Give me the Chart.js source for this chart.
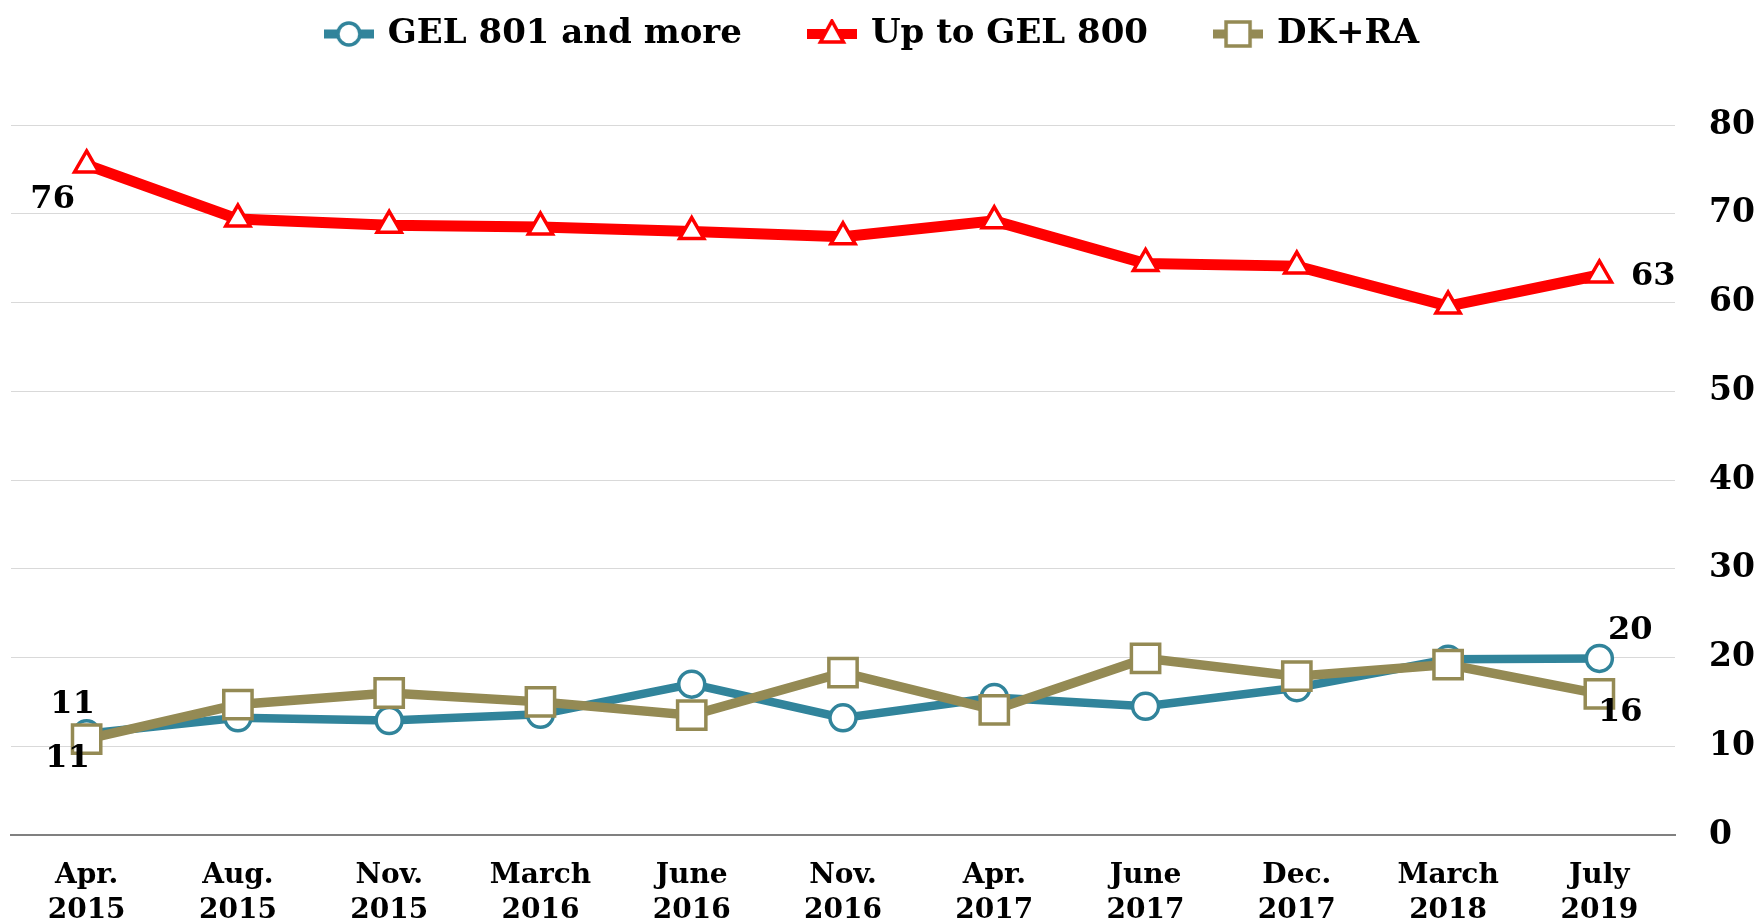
<!DOCTYPE html>
<html>
<head>
<meta charset="utf-8">
<script src="https://cdn.jsdelivr.net/npm/chart.js@4"></script>
<style>
  body { margin: 0; background: #fff; }
  #wrap { width: 1762px; height: 924px; }
</style>
</head>
<body>
<div id="wrap"><canvas id="chart"></canvas></div>
<script>
// survey waves
const categories = [
  ['Apr.', '2015'], ['Aug.', '2015'], ['Nov.', '2015'], ['March', '2016'],
  ['June', '2016'], ['Nov.', '2016'], ['Apr.', '2017'], ['June', '2017'],
  ['Dec.', '2017'], ['March', '2018'], ['July', '2019']
];
const gel801 = [11.4, 13.2, 12.9, 13.6, 17.0, 13.2, 15.5, 14.5, 16.6, 19.8, 19.9];
const upTo800 = [75.5, 69.4, 68.7, 68.5, 68.0, 67.4, 69.2, 64.4, 64.1, 59.6, 63.1];
const dkra = [10.8, 14.7, 16.0, 15.0, 13.5, 18.3, 14.1, 19.9, 17.9, 19.2, 15.9];
const yTicks = [0, 10, 20, 30, 40, 50, 60, 70, 80];

const TEAL = '#31849B', RED = '#FF0000', OLIVE = '#948A54';
const FONT = 'DejaVu Serif';

// small line+marker swatch for the legend
function swatch(color, style, lw) {
  const c = document.createElement('canvas');
  c.width = 50; c.height = 30;
  const g = c.getContext('2d');
  g.strokeStyle = color; g.lineWidth = lw;
  g.beginPath(); g.moveTo(0, 15); g.lineTo(50, 15); g.stroke();
  g.fillStyle = '#fff'; g.lineWidth = 3.5;
  g.beginPath();
  if (style === 'circle') g.arc(25, 15, 11, 0, Math.PI * 2);
  else if (style === 'rect') g.rect(13, 3, 24, 24);
  else { g.moveTo(25, 2); g.lineTo(36.5, 23); g.lineTo(13.5, 23); g.closePath(); }
  g.fill(); g.stroke();
  return c;
}

// value labels at chosen points
const pointLabels = {
  id: 'pointLabels',
  afterDatasetsDraw(chart, args, opts) {
    const ctx = chart.ctx;
    ctx.save();
    ctx.font = 'bold 32px "' + FONT + '"';
    ctx.fillStyle = '#000';
    ctx.textAlign = 'center';
    ctx.textBaseline = 'middle';
    opts.items.forEach(it => {
      const pt = chart.getDatasetMeta(it.ds).data[it.i];
      const v = chart.data.datasets[it.ds].data[it.i];
      ctx.fillText(Math.round(v), pt.x + it.dx, pt.y + it.dy);
    });
    ctx.restore();
  }
};

// legend sits a little left of the canvas centre in the original
const legendShift = {
  id: 'legendShift',
  afterLayout(chart) { chart.legend.right -= 27; }
};

new Chart(document.getElementById('chart'), {
  type: 'line',
  data: {
    labels: categories,
    datasets: [
      {
        label: 'GEL 801 and more', data: gel801, borderColor: TEAL, borderWidth: 8.5,
        pointStyle: 'circle', pointRadius: 13, pointBorderWidth: 3.5,
        pointBackgroundColor: '#fff', pointBorderColor: TEAL, order: 2
      },
      {
        label: 'Up to GEL 800', data: upTo800, borderColor: RED, borderWidth: 11,
        pointStyle: 'triangle', pointRadius: 14, pointBorderWidth: 3.5,
        pointBackgroundColor: '#fff', pointBorderColor: RED, order: 1
      },
      {
        label: 'DK+RA', data: dkra, borderColor: OLIVE, borderWidth: 9.5,
        pointStyle: 'rect', pointRadius: 20, pointBorderWidth: 3.5,
        pointBackgroundColor: '#fff', pointBorderColor: OLIVE, order: 0
      }
    ]
  },
  options: {
    responsive: true,
    maintainAspectRatio: false,
    animation: false,
    layout: { autoPadding: false, padding: { left: 11, top: -51 } },
    plugins: {
      tooltip: { enabled: false },
      // empty title used as a spacer between legend and plot
      title: {
        display: true, text: '', weight: 500,
        font: { size: 1, lineHeight: 1 },
        padding: { top: 63, bottom: 0 }
      },
      legend: {
        position: 'top',
        labels: {
          usePointStyle: true,
          pointStyleWidth: 44,
          padding: 68,
          color: '#000',
          font: { family: FONT, size: 34, weight: 'bold' },
          generateLabels(chart) {
            const styles = ['circle', 'triangle', 'rect'];
            const widths = [9, 10, 9];
            return chart.data.datasets.map((d, i) => ({
              text: d.label,
              pointStyle: swatch(d.borderColor, styles[i], widths[i]),
              fontColor: '#000',
              lineWidth: 0,
              datasetIndex: i
            }));
          }
        }
      },
      pointLabels: {
        items: [
          { ds: 1, i: 0, dx: -34, dy: 35 },
          { ds: 1, i: 10, dx: 54, dy: 2 },
          { ds: 0, i: 0, dx: -14, dy: -29 },
          { ds: 2, i: 0, dx: -19, dy: 20 },
          { ds: 0, i: 10, dx: 31, dy: -28 },
          { ds: 2, i: 10, dx: 21, dy: 19 }
        ]
      }
    },
    scales: {
      x: {
        offset: true,
        grid: { display: false },
        border: { display: true, color: '#808080', width: 2 },
        ticks: {
          color: '#000', padding: 15, maxRotation: 0,
          font: { family: FONT, size: 28, weight: 'bold', lineHeight: 1.25 }
        },
        afterFit(scale) { scale.height = 89; }
      },
      y: {
        position: 'right',
        min: 0, max: 80,
        afterBuildTicks(scale) { scale.ticks = yTicks.map(v => ({ value: v })); },
        grid: { color: '#d9d9d9', lineWidth: 1, drawTicks: false },
        border: { display: false },
        ticks: {
          color: '#000', padding: 34, crossAlign: 'near',
          font: { family: FONT, size: 33, weight: 'bold' }
        },
        afterFit(scale) { scale.width = 87; }
      }
    }
  },
  plugins: [pointLabels, legendShift]
});
</script>
</body>
</html>
